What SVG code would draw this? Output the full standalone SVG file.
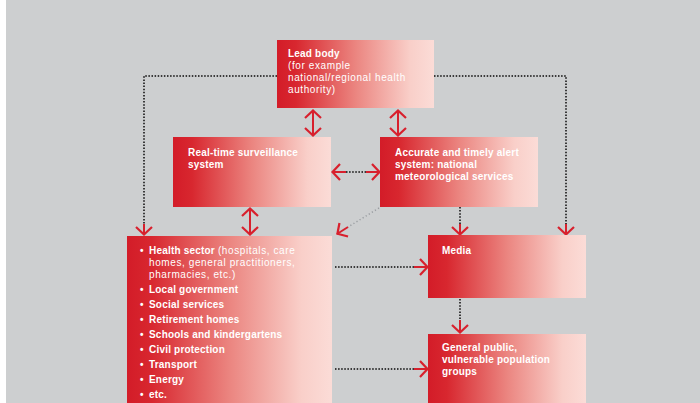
<svg xmlns="http://www.w3.org/2000/svg" width="700" height="403" viewBox="0 0 700 403">
<defs>
<linearGradient id="g" x1="0" y1="0" x2="1" y2="0">
<stop offset="0" stop-color="#d31c28"/>
<stop offset="0.12" stop-color="#d8272f"/>
<stop offset="0.5" stop-color="#eb8580"/>
<stop offset="0.85" stop-color="#f9cfc9"/>
<stop offset="1" stop-color="#fbdcd7"/>
</linearGradient>
<marker id="ah" markerUnits="userSpaceOnUse" viewBox="-10 -10 20 20" refX="0" refY="0" markerWidth="20" markerHeight="20" orient="auto-start-reverse">
<path d="M-8,-8 L-0.5,0 L-8,8" fill="none" stroke="#d8202d" stroke-width="2.2"/>
</marker>
<style>
.box{fill:url(#g)}
text{font-family:"Liberation Sans",Arial,sans-serif;font-size:10px;fill:#fff;font-weight:700;letter-spacing:0.2px}
.n{font-weight:400;letter-spacing:0.6px}
.red{stroke:#d8202d;stroke-width:2;fill:none}
.dot{stroke:#3a3a3a;stroke-width:2;fill:none;stroke-dasharray:1.5 1.6}
.ldot{stroke:#9a9ea2;stroke-width:1.5;fill:none;stroke-dasharray:1.2 2.4}
</style>
</defs>
<rect x="0" y="0" width="700" height="403" fill="#ffffff"/>
<rect x="6" y="0" width="694" height="403" fill="#cdcfd0"/>
<g id="connectors">
<path class="dot" d="M277,76 H144 V226"/>
<path class="red" d="M144,224 V235" marker-end="url(#ah)"/>
<path class="dot" d="M434,76 H566 V226"/>
<path class="red" d="M566,224 V235" marker-end="url(#ah)"/>
<path class="red" d="M313,110 V136" marker-start="url(#ah)" marker-end="url(#ah)"/>
<path class="red" d="M398,110 V136" marker-start="url(#ah)" marker-end="url(#ah)"/>
<path class="red" d="M250,208 V235" marker-start="url(#ah)" marker-end="url(#ah)"/>
<path class="red" d="M332,172 H346"  marker-start="url(#ah)"/>
<path class="red" d="M366,172 H380" marker-end="url(#ah)"/>
<path class="dot" d="M346,172 H366"/>
<path class="dot" d="M460,207 V226"/>
<path class="red" d="M460,224 V235" marker-end="url(#ah)"/>
<path class="ldot" d="M379,208 L348,227"/>
<path class="red" d="M348,227 L337,234" marker-end="url(#ah)"/>
<path class="dot" d="M335,267 H416"/>
<path class="red" d="M414,267 H428" marker-end="url(#ah)"/>
<path class="dot" d="M335,369 H416"/>
<path class="red" d="M414,369 H428" marker-end="url(#ah)"/>
<path class="dot" d="M460,299 V322"/>
<path class="red" d="M460,320 V333" marker-end="url(#ah)"/>
</g>
<g id="lead-body">
<rect class="box" x="277" y="40" width="157" height="68"/>
<text x="288" y="57">Lead body</text>
<text class="n" x="288" y="69">(for example</text>
<text class="n" x="288" y="81">national/regional health</text>
<text class="n" x="288" y="93">authority)</text>
</g>
<g id="surveillance">
<rect class="box" x="173" y="137" width="158" height="70"/>
<text x="188" y="156">Real-time surveillance</text>
<text x="188" y="168">system</text>
</g>
<g id="alert">
<rect class="box" x="380" y="137" width="158" height="70"/>
<text x="395" y="156">Accurate and timely alert</text>
<text x="395" y="168">system: national</text>
<text x="395" y="180">meteorological services</text>
</g>
<g id="sectors">
<rect class="box" x="127" y="236" width="205" height="170"/>
<text x="140" y="254">•</text><text x="149" y="254">Health sector <tspan class="n">(hospitals, care</tspan></text>
<text class="n" x="149" y="266">homes, general practitioners,</text>
<text class="n" x="149" y="278">pharmacies, etc.)</text>
<text x="140" y="293">•</text><text x="149" y="293">Local government</text>
<text x="140" y="308">•</text><text x="149" y="308">Social services</text>
<text x="140" y="323">•</text><text x="149" y="323">Retirement homes</text>
<text x="140" y="338">•</text><text x="149" y="338">Schools and kindergartens</text>
<text x="140" y="353">•</text><text x="149" y="353">Civil protection</text>
<text x="140" y="368">•</text><text x="149" y="368">Transport</text>
<text x="140" y="383">•</text><text x="149" y="383">Energy</text>
<text x="140" y="398">•</text><text x="149" y="398">etc.</text>
</g>
<g id="media">
<rect class="box" x="428" y="235" width="158" height="63"/>
<text x="442" y="254">Media</text>
</g>
<g id="public">
<rect class="box" x="428" y="334" width="158" height="72"/>
<text x="442" y="351">General public,</text>
<text x="442" y="363">vulnerable population</text>
<text x="442" y="375">groups</text>
</g>
</svg>
